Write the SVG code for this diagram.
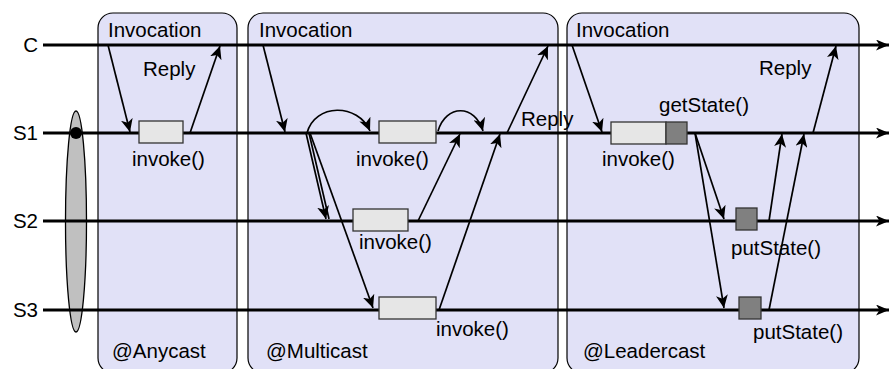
<svg xmlns="http://www.w3.org/2000/svg" width="891" height="369" viewBox="0 0 891 369">
<defs>
<marker id="big" viewBox="0 0 13 11" refX="13" refY="5.5" markerWidth="13" markerHeight="11" markerUnits="userSpaceOnUse" orient="auto">
<path d="M0,0 L13,5.5 L0,11 L3.5,5.5 Z" fill="#000"/>
</marker>
<marker id="ah" viewBox="0 0 13 12" refX="13" refY="6" markerWidth="13" markerHeight="12" markerUnits="userSpaceOnUse" orient="auto">
<path d="M0,0 L13,6 L0,12 L3.5,6 Z" fill="#000"/>
</marker>
</defs>
<style>
.box{fill:#e1e1f7;stroke:#000;stroke-width:1.2}
.life{stroke:#000;stroke-width:3;fill:none;marker-end:url(#big)}
.msg{stroke:#000;stroke-width:1.7;fill:none;marker-end:url(#ah)}
.ln{stroke:#000;stroke-width:1.7;fill:none}
.act{fill:#e6e6e6;stroke:#333;stroke-width:1.3}
.st{fill:#808080;stroke:#333;stroke-width:1.3}
text{font-family:"Liberation Sans",Arial,sans-serif;font-size:20.5px;fill:#000}
</style>
<rect width="891" height="369" fill="#fff"/>
<g id="anycast"><rect class="box" x="98" y="13" width="139" height="360" rx="15"/></g>
<g id="multicast"><rect class="box" x="248" y="13" width="310" height="360" rx="15"/></g>
<g id="leadercast"><rect class="box" x="567" y="13" width="292" height="360" rx="15"/></g>
<g id="group"><ellipse cx="76" cy="221.5" rx="10.5" ry="110.5" fill="#c0c0c0" stroke="#000" stroke-width="1.3"/></g>
<g id="lifelines">
<line class="life" x1="43" y1="45" x2="889" y2="45"/>
<line class="life" x1="43" y1="133" x2="889" y2="133"/>
<line class="life" x1="43" y1="221" x2="889" y2="221"/>
<line class="life" x1="43" y1="310" x2="889" y2="310"/>
<circle cx="76" cy="133" r="6" fill="#000"/>
</g>
<g id="labels">
<text x="38" y="52" text-anchor="end">C</text>
<text x="38" y="140" text-anchor="end">S1</text>
<text x="38" y="228" text-anchor="end">S2</text>
<text x="38" y="317" text-anchor="end">S3</text>
</g>
<g id="activations">
<rect class="act" x="139" y="121" width="44" height="22"/>
<rect class="act" x="379" y="121" width="57" height="22"/>
<rect class="act" x="353" y="209" width="55" height="22"/>
<rect class="act" x="379" y="297" width="57" height="22"/>
<rect class="act" x="611" y="122" width="55" height="22"/>
<rect class="st" x="666" y="122" width="21" height="22"/>
<rect class="st" x="736" y="208" width="21" height="22"/>
<rect class="st" x="739" y="297" width="22" height="22"/>
</g>
<g id="connectors">
<line class="msg" x1="108" y1="45" x2="130" y2="132"/>
<line class="msg" x1="190" y1="133" x2="220" y2="46"/>
<line class="msg" x1="263" y1="45" x2="285" y2="132"/>
<path class="msg" d="M307,133 C315,103 358,103 370,131"/>
<path class="msg" d="M438,131 C446,104 475,104 483,131"/>
<line class="msg" x1="306" y1="133" x2="326" y2="219"/>
<line class="ln" x1="309" y1="133" x2="329" y2="219"/>
<line class="msg" x1="310" y1="133" x2="373" y2="308"/>
<line class="msg" x1="418" y1="221" x2="460" y2="134"/>
<line class="msg" x1="439" y1="310" x2="500" y2="134"/>
<line class="msg" x1="507" y1="133" x2="548" y2="46"/>
<line class="msg" x1="572" y1="45" x2="602" y2="132"/>
<line class="msg" x1="695" y1="133" x2="724" y2="219"/>
<line class="msg" x1="695" y1="133" x2="724" y2="308"/>
<line class="msg" x1="769" y1="221" x2="782" y2="134"/>
<line class="msg" x1="769" y1="310" x2="804" y2="134"/>
<line class="msg" x1="813" y1="133" x2="836" y2="46"/>
</g>
<g id="texts">
<text x="108" y="37">Invocation</text>
<text x="143" y="76">Reply</text>
<text x="132" y="166">invoke()</text>
<text x="112" y="358">@Anycast</text>
<text x="259" y="37">Invocation</text>
<text x="356" y="166">invoke()</text>
<text x="359" y="249">invoke()</text>
<text x="436" y="336">invoke()</text>
<text x="521" y="126">Reply</text>
<text x="266" y="358">@Multicast</text>
<text x="576" y="37">Invocation</text>
<text x="659" y="112">getState()</text>
<text x="602" y="166">invoke()</text>
<text x="759" y="75">Reply</text>
<text x="731" y="255">putState()</text>
<text x="753" y="339">putState()</text>
<text x="583" y="358">@Leadercast</text>
</g>
</svg>
